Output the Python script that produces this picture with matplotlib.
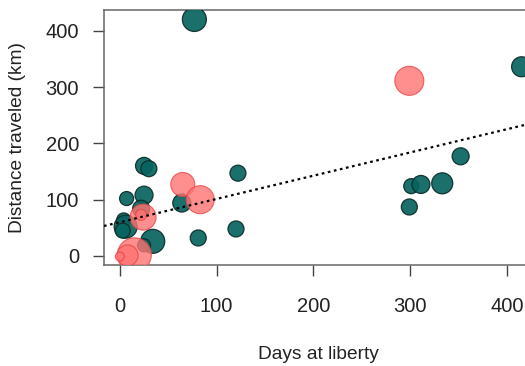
import matplotlib.pyplot as plt

# Tagged fish: days at liberty vs distance traveled, marker size ~ fish size
teal_days = [77, 415, 352, 301, 311, 333, 299, 122, 120, 81, 64, 25, 30, 7, 25, 22, 4, 6, 34, 25, 3]
teal_dist = [420, 336, 177, 124, 127, 129, 87, 147, 48, 32, 94, 160, 155, 102, 108, 84, 64, 52, 26, 19, 45]
teal_size = [23, 19, 16, 14, 17, 20, 15, 15, 15, 15, 17, 16, 15, 13, 17, 16, 13, 22, 23, 12, 14]

pink_days = [299, 65, 83, 24, 22, 15, 8, 0]
pink_dist = [311, 127, 100, 69, 73, 2, 1, -1]
pink_size = [28, 23, 27, 25, 10, 33, 20, 8]

# Linear fit drawn across the plot
fit_intercept = 60.0
fit_slope = 0.413

PX = 0.72  # points per pixel at dpi=100

plt.rcParams['font.family'] = ['Liberation Sans', 'DejaVu Sans']

fig = plt.figure(figsize=(5.25, 3.66), dpi=100)
ax = fig.add_axes([0.198, 0.276, 0.819, 0.697])

ax.scatter(teal_days, teal_dist, s=[((d + 1) * PX) ** 2 for d in teal_size],
           c='#07645f', edgecolors='#0b2b29', linewidths=0.9, alpha=0.92, zorder=3)
ax.scatter(pink_days, pink_dist, s=[((d + 1) * PX) ** 2 for d in pink_size],
           c='#ff7373', edgecolors='#e84545', linewidths=0.8, alpha=0.8, zorder=4)

xlim = (-16.4, 427.7)
ax.plot(xlim, [fit_intercept + fit_slope * x for x in xlim], color='black',
        lw=1.6, linestyle=(0, (1.2, 1.6)), zorder=5)

ax.set_xlim(*xlim)
ax.set_ylim(-16, 437)
ax.set_xticks([0, 100, 200, 300, 400])
ax.set_yticks([0, 100, 200, 300, 400])
ax.tick_params(direction='out', length=8, width=1, color='#444', labelsize=14.5,
               labelcolor='#222')
ax.tick_params(axis='x', pad=15)
ax.tick_params(axis='y', pad=10)
for sp in ax.spines.values():
    sp.set_color('#666')
    sp.set_linewidth(1.1)

ax.set_xlabel('Days at liberty', fontsize=13.8, color='#222', labelpad=22)
ax.set_ylabel('Distance traveled (km)', fontsize=13.8, color='#222', labelpad=14)

fig.savefig('out.png', dpi=100)
